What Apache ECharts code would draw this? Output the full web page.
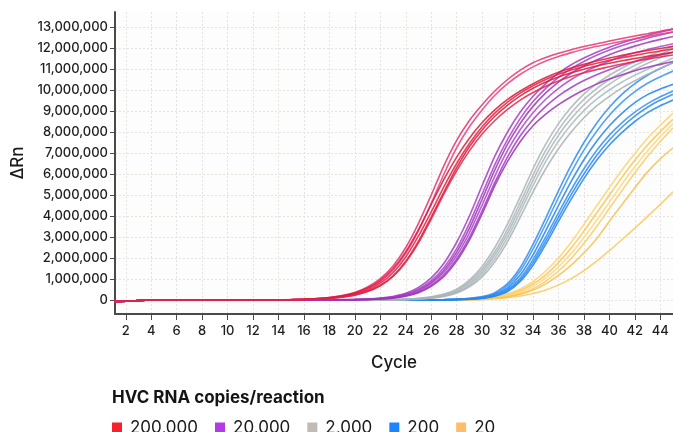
<!DOCTYPE html>
<html>
<head>
<meta charset="utf-8">
<script src="https://cdn.jsdelivr.net/npm/echarts@6.0.0/dist/echarts.min.js"></script>
<style>
  html, body { margin: 0; padding: 0; background: #ffffff; }
  #chart { width: 673px; height: 432px; }
</style>
</head>
<body>
<div id="chart"></div>
<script>
// Amplification cycles
const cycles = [1,2,3,4,5,6,7,8,9,10,11,12,13,14,15,16,17,18,19,20,21,22,23,24,25,26,27,28,29,30,
                31,32,33,34,35,36,37,38,39,40,41,42,43,44,45];

// Axis tick values
const cycleTicks = [2,4,6,8,10,12,14,16,18,20,22,24,26,28,30,32,34,36,38,40,42,44];
const deltaRnTicks = [0,1000000,2000000,3000000,4000000,5000000,6000000,7000000,8000000,
                      9000000,10000000,11000000,12000000,13000000];

// Legend labels (HVC RNA copies per reaction)
const groupLabels = ['200,000', '20,000', '2,000', '200', '20'];

// ΔRn per cycle, in millions, one row per replicate well
const copies200000 = [
  [-0.07,-0.06,-0.03,0,0,0,0,0,0,0,0,0,0,0.01,0.02,
   0.04,0.07,0.12,0.21,0.36,0.62,1.02,1.62,2.5,3.65,5.0,6.4,7.6,8.55,9.3,
   9.95,10.5,10.95,11.3,11.55,11.75,11.92,12.07,12.2,12.33,12.45,12.57,12.68,12.8,12.9],
  [-0.07,-0.06,-0.03,0,0,0,0,0,0,0,0,0,0,0.01,0.02,
   0.03,0.06,0.1,0.18,0.31,0.53,0.88,1.42,2.22,3.3,4.6,6.0,7.25,8.25,9.05,
   9.75,10.3,10.75,11.1,11.38,11.6,11.78,11.94,12.08,12.2,12.32,12.44,12.55,12.66,12.76],
  [-0.07,-0.06,-0.03,0,0,0,0,0,0,0,0,0,0,0.01,0.02,
   0.04,0.07,0.12,0.2,0.34,0.57,0.94,1.5,2.3,3.35,4.55,5.75,6.8,7.7,8.45,
   9.05,9.55,9.95,10.3,10.6,10.85,11.05,11.22,11.38,11.52,11.65,11.77,11.88,11.98,12.08],
  [-0.07,-0.06,-0.03,0,0,0,0,0,0,0,0,0,0,0,0.01,
   0.03,0.05,0.09,0.16,0.28,0.48,0.8,1.3,2.05,3.05,4.2,5.4,6.5,7.45,8.25,
   8.9,9.42,9.85,10.2,10.5,10.75,10.95,11.12,11.27,11.41,11.54,11.65,11.76,11.86,11.96],
  [-0.07,-0.06,-0.03,0,0,0,0,0,0,0,0,0,0,0,0.01,
   0.02,0.04,0.08,0.14,0.24,0.42,0.7,1.15,1.85,2.8,3.95,5.15,6.3,7.3,8.1,
   8.75,9.28,9.72,10.08,10.38,10.62,10.82,10.99,11.14,11.27,11.39,11.5,11.6,11.7,11.8],
  [-0.07,-0.06,-0.03,0,0,0,0,0,0,0,0,0,0,0,0.01,
   0.02,0.04,0.07,0.13,0.23,0.4,0.68,1.12,1.8,2.72,3.85,5.05,6.15,7.1,7.9,
   8.55,9.08,9.52,9.88,10.18,10.43,10.64,10.82,10.97,11.11,11.24,11.36,11.47,11.57,11.67]
];

const copies20000 = [
  [-0.07,-0.06,-0.03,0,0,0,0,0,0,0,0,0,0,0,0,
   0,0,0.01,0.02,0.03,0.05,0.09,0.17,0.32,0.6,1.05,1.75,2.75,4.0,5.45,
   6.85,8.0,8.95,9.7,10.3,10.8,11.2,11.52,11.8,12.04,12.25,12.43,12.6,12.75,12.9],
  [-0.07,-0.06,-0.03,0,0,0,0,0,0,0,0,0,0,0,0,
   0,0,0.01,0.01,0.02,0.04,0.08,0.15,0.28,0.52,0.92,1.55,2.45,3.65,5.05,
   6.45,7.65,8.65,9.45,10.08,10.6,11.02,11.36,11.65,11.9,12.12,12.3,12.47,12.62,12.76],
  [-0.07,-0.06,-0.03,0,0,0,0,0,0,0,0,0,0,0,0,
   0,0,0,0.01,0.02,0.04,0.07,0.13,0.25,0.47,0.84,1.42,2.28,3.42,4.8,
   6.2,7.42,8.42,9.22,9.86,10.38,10.8,11.14,11.43,11.68,11.9,12.09,12.26,12.41,12.55],
  [-0.07,-0.06,-0.03,0,0,0,0,0,0,0,0,0,0,0,0,
   0,0,0,0.01,0.02,0.03,0.06,0.12,0.23,0.43,0.78,1.32,2.12,3.2,4.52,
   5.9,7.12,8.12,8.92,9.56,10.08,10.5,10.84,11.13,11.38,11.59,11.77,11.93,12.07,12.2],
  [-0.07,-0.06,-0.03,0,0,0,0,0,0,0,0,0,0,0,0,
   0,0,0,0.01,0.01,0.03,0.05,0.1,0.2,0.38,0.7,1.2,1.95,2.98,4.25,
   5.6,6.82,7.82,8.6,9.22,9.72,10.12,10.45,10.73,10.97,11.18,11.36,11.52,11.66,11.8],
  [-0.07,-0.06,-0.03,0,0,0,0,0,0,0,0,0,0,0,0,
   0,0,0,0.01,0.01,0.02,0.05,0.09,0.18,0.35,0.65,1.12,1.85,2.85,4.1,
   5.45,6.6,7.55,8.3,8.85,9.3,9.68,10.0,10.28,10.52,10.73,10.92,11.08,11.22,11.36]
];

const copies2000 = [
  [-0.07,-0.06,-0.03,0,0,0,0,0,0,0,0,0,0,0,0,
   0,0,0,0,0,0,0.01,0.02,0.04,0.08,0.15,0.28,0.52,0.95,1.6,
   2.5,3.62,4.92,6.25,7.42,8.4,9.18,9.8,10.3,10.7,11.05,11.35,11.6,11.85,12.08],
  [-0.07,-0.06,-0.03,0,0,0,0,0,0,0,0,0,0,0,0,
   0,0,0,0,0,0,0,0.02,0.03,0.07,0.13,0.25,0.47,0.86,1.46,
   2.3,3.38,4.65,5.95,7.12,8.1,8.9,9.55,10.07,10.5,10.86,11.17,11.44,11.7,11.95],
  [-0.07,-0.06,-0.03,0,0,0,0,0,0,0,0,0,0,0,0,
   0,0,0,0,0,0,0,0.01,0.03,0.06,0.12,0.22,0.42,0.78,1.34,
   2.14,3.18,4.42,5.7,6.86,7.84,8.64,9.3,9.84,10.28,10.66,10.98,11.27,11.54,11.8],
  [-0.07,-0.06,-0.03,0,0,0,0,0,0,0,0,0,0,0,0,
   0,0,0,0,0,0,0,0.01,0.02,0.05,0.1,0.19,0.37,0.7,1.22,
   1.98,2.98,4.2,5.45,6.6,7.56,8.36,9.02,9.56,10.0,10.38,10.7,10.99,11.26,11.52],
  [-0.07,-0.06,-0.03,0,0,0,0,0,0,0,0,0,0,0,0,
   0,0,0,0,0,0,0,0,0.02,0.04,0.09,0.17,0.33,0.63,1.1,
   1.82,2.78,3.95,5.15,6.25,7.2,8.0,8.68,9.24,9.7,10.1,10.44,10.75,11.03,11.3]
];

const copies200 = [
  [-0.07,-0.06,-0.03,0,0,0,0,0,0,0,0,0,0,0,0,
   0,0,0,0,0,0,0,0,0,0,0.01,0.02,0.04,0.08,0.16,
   0.35,0.78,1.55,2.65,3.9,5.2,6.42,7.5,8.42,9.18,9.8,10.3,10.7,11.02,11.3],
  [-0.07,-0.06,-0.03,0,0,0,0,0,0,0,0,0,0,0,0,
   0,0,0,0,0,0,0,0,0,0,0.01,0.02,0.04,0.07,0.14,
   0.3,0.68,1.38,2.42,3.62,4.88,6.08,7.14,8.04,8.8,9.42,9.92,10.32,10.63,10.9],
  [-0.07,-0.06,-0.03,0,0,0,0,0,0,0,0,0,0,0,0,
   0,0,0,0,0,0,0,0,0,0,0,0.01,0.03,0.06,0.12,
   0.26,0.58,1.2,2.15,3.3,4.5,5.65,6.68,7.56,8.3,8.9,9.4,9.78,10.05,10.27],
  [-0.07,-0.06,-0.03,0,0,0,0,0,0,0,0,0,0,0,0,
   0,0,0,0,0,0,0,0,0,0,0,0.01,0.02,0.05,0.1,
   0.22,0.5,1.05,1.92,3.0,4.15,5.25,6.25,7.12,7.85,8.45,8.95,9.35,9.68,9.95],
  [-0.07,-0.06,-0.03,0,0,0,0,0,0,0,0,0,0,0,0,
   0,0,0,0,0,0,0,0,0,0,0,0.01,0.02,0.04,0.09,
   0.2,0.45,0.96,1.78,2.82,3.94,5.02,6.0,6.88,7.62,8.24,8.76,9.18,9.52,9.8],
  [-0.07,-0.06,-0.03,0,0,0,0,0,0,0,0,0,0,0,0,
   0,0,0,0,0,0,0,0,0,0,0,0,0.02,0.04,0.08,
   0.18,0.4,0.88,1.65,2.65,3.74,4.8,5.78,6.65,7.38,7.98,8.5,8.92,9.25,9.52]
];

const copies20 = [
  [-0.07,-0.06,-0.03,0,0,0,0,0,0,0,0,0,0,0,0,
   0,0,0,0,0,0,0,0,0,0,0,0.01,0.02,0.04,0.08,
   0.16,0.3,0.52,0.88,1.38,2.0,2.75,3.6,4.48,5.35,6.2,6.98,7.7,8.32,8.9],
  [-0.07,-0.06,-0.03,0,0,0,0,0,0,0,0,0,0,0,0,
   0,0,0,0,0,0,0,0,0,0,0,0,0.01,0.03,0.06,
   0.12,0.24,0.44,0.76,1.2,1.78,2.48,3.28,4.14,5.0,5.85,6.65,7.38,8.02,8.6],
  [-0.07,-0.06,-0.03,0,0,0,0,0,0,0,0,0,0,0,0,
   0,0,0,0,0,0,0,0,0,0,0,0,0.01,0.02,0.05,
   0.1,0.2,0.37,0.65,1.05,1.58,2.22,2.98,3.8,4.66,5.52,6.34,7.1,7.78,8.4],
  [-0.07,-0.06,-0.03,0,0,0,0,0,0,0,0,0,0,0,0,
   0,0,0,0,0,0,0,0,0,0,0,0,0,0.02,0.04,
   0.08,0.16,0.3,0.54,0.9,1.38,1.98,2.7,3.5,4.36,5.22,6.05,6.84,7.55,8.2],
  [-0.07,-0.06,-0.03,0,0,0,0,0,0,0,0,0,0,0,0,
   0,0,0,0,0,0,0,0,0,0,0,0,0,0.02,0.04,
   0.08,0.15,0.27,0.47,0.77,1.17,1.66,2.25,2.92,3.75,4.55,5.35,6.1,6.72,7.25],
  [-0.07,-0.06,-0.03,0,0,0,0,0,0,0,0,0,0,0,0,
   0,0,0,0,0,0,0,0,0,0,0,0,0,0.01,0.03,
   0.06,0.11,0.19,0.31,0.48,0.72,1.02,1.4,1.85,2.35,2.88,3.42,3.98,4.55,5.15]
];

// Colours
const legendColors = ['#f5212d', '#b33be6', '#c2bab5', '#1b85ff', '#ffbd6b'];
const lineColors200000 = ['#e5306f', '#e83f7c', '#d91a3c', '#e0203f', '#dc1838', '#e2264a'];
const lineColors20000 = ['#a23cc0', '#a843c6', '#9d35ba', '#ad46c9', '#a13abf', '#9a33b6'];
const lineColors2000 = ['#adb2b4', '#a2b9c0', '#b1b1b1', '#a6bcc3', '#aab0b3'];
const lineColors200 = ['#2f8cf2', '#3a93f0', '#1f84f0', '#3390f1', '#2a89f3', '#2386ef'];
const lineColors20 = ['#fcd46a', '#f9c555', '#fdd77c', '#fbcb60', '#f8c050', '#fbc85a'];

const FONT = 'Inter, "Noto Sans", sans-serif';

const groups = [
  { label: groupLabels[4], curves: copies20, colors: lineColors20 },
  { label: groupLabels[3], curves: copies200, colors: lineColors200 },
  { label: groupLabels[2], curves: copies2000, colors: lineColors2000 },
  { label: groupLabels[1], curves: copies20000, colors: lineColors20000 },
  { label: groupLabels[0], curves: copies200000, colors: lineColors200000 }
];

const series = [];
groups.forEach(g => {
  g.curves.forEach((vals, k) => {
    const col = g.colors[k % g.colors.length];
    series.push({
      name: g.label,
      type: 'line',
      data: vals.map((v, i) => [cycles[i], v * 1e6]),
      showSymbol: false,
      symbol: 'none',
      smooth: 0.2,
      silent: true,
      lineStyle: { width: 1.6, color: col, opacity: 0.85 },
      itemStyle: { color: col },
      emphasis: { disabled: true }
    });
  });
});

const chart = echarts.init(document.getElementById('chart'), null, { renderer: 'canvas' });
chart.setOption({
  animation: false,
  backgroundColor: '#ffffff',
  grid: {
    left: 115, right: 0, top: 12, bottom: 118,
    show: true, backgroundColor: '#fdfdfd', borderWidth: 0
  },
  title: {
    text: 'HVC RNA copies/reaction',
    left: 112, top: 389,
    padding: 0,
    textStyle: { fontFamily: FONT, fontSize: 17, fontWeight: 'bold', color: '#141414' }
  },
  legend: {
    left: 112, top: 419,
    padding: 0,
    icon: 'rect',
    itemWidth: 10, itemHeight: 10, itemGap: 17,
    selectedMode: false,
    textStyle: { fontFamily: FONT, fontSize: 17, color: '#1a1a1a', padding: [0, 0, 0, 3] },
    data: groupLabels.map((n, i) => ({ name: n, icon: 'rect', itemStyle: { color: legendColors[i] } }))
  },
  xAxis: {
    type: 'value',
    min: 1.15, max: 45,
    name: 'Cycle',
    nameLocation: 'middle',
    nameGap: 40,
    nameTextStyle: { fontFamily: FONT, fontSize: 17, fontWeight: 500, color: '#1a1a1a' },
    axisLine: { onZero: false, lineStyle: { color: '#4a4a4a', width: 2 } },
    axisTick: { show: true, customValues: cycleTicks, length: 6, lineStyle: { color: '#4a4a4a', width: 1 } },
    axisLabel: { customValues: cycleTicks, margin: 11, fontFamily: FONT, fontSize: 13, fontWeight: 500, color: '#1e1e1e' },
    splitLine: { show: true, lineStyle: { color: '#e6e2de', type: [2, 2], width: 1 } }
  },
  yAxis: {
    type: 'value',
    min: -666667, max: 13714286,
    name: 'ΔRn',
    nameLocation: 'middle',
    nameGap: 80,
    nameRotate: 90,
    nameTextStyle: { fontFamily: FONT, fontSize: 17, fontWeight: 500, color: '#1a1a1a' },
    axisLine: { show: true, onZero: false, lineStyle: { color: '#4a4a4a', width: 2 } },
    axisTick: { show: true, customValues: deltaRnTicks, length: 5, lineStyle: { color: '#4a4a4a', width: 1 } },
    axisLabel: {
      customValues: deltaRnTicks, margin: 7,
      fontFamily: FONT, fontSize: 13, fontWeight: 500, color: '#1e1e1e',
      formatter: v => Math.round(v).toLocaleString('en-US')
    },
    splitLine: { show: true, lineStyle: { color: '#e6e2de', type: [2, 2], width: 1 } }
  },
  series: series
});
</script>
</body>
</html>
